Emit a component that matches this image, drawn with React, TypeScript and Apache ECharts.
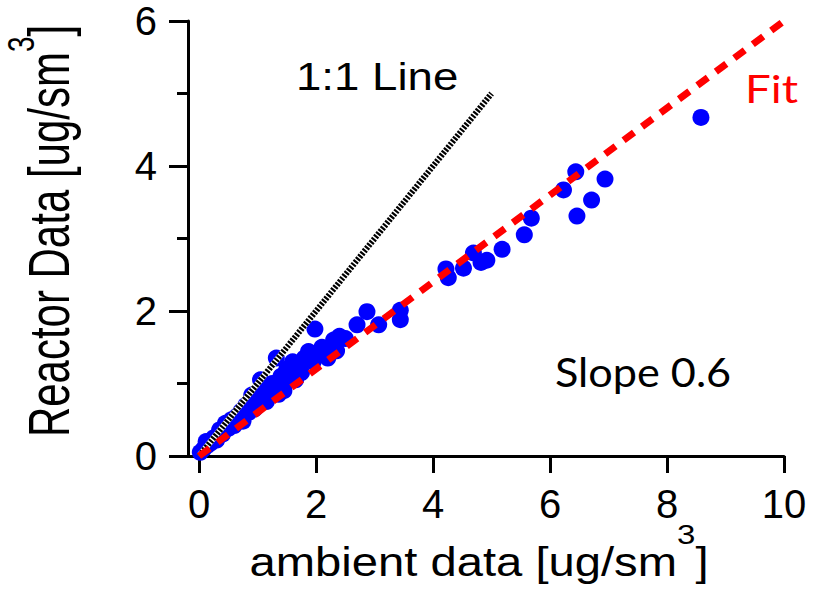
import { useEffect, useRef } from "react";
import * as echarts from "echarts";

const ambient = [
  0.02, 0.08, 0.15, 0.12, 0.2, 0.25, 0.3, 0.35, 0.4, 0.45, 0.5, 0.55, 0.6, 0.65, 0.72, 0.75, 0.8, 0.85,
  0.9, 0.95, 1.0, 1.05, 1.1, 1.15, 1.2, 1.25, 1.32, 1.36, 1.4, 1.45, 1.5, 1.55, 1.6, 1.65, 1.7, 1.75,
  1.8, 1.87, 1.95, 1.98, 2.05, 2.1, 2.2, 2.3, 2.35, 2.4, 2.5, 2.7, 2.87, 3.07, 3.44, 3.44, 4.22, 4.26,
  4.52, 4.69, 4.82, 4.92, 5.18, 5.56, 5.68, 6.23, 6.44, 6.46, 6.71, 6.94, 8.58,
];
const reactor = [
  0.05, 0.1, 0.15, 0.2, 0.18, 0.25, 0.22, 0.36, 0.3, 0.45, 0.38, 0.5, 0.42, 0.55, 0.62, 0.48, 0.7, 0.6,
  0.84, 0.65, 0.8, 1.05, 0.95, 0.75, 0.9, 1.0, 1.35, 0.85, 1.1, 0.9, 1.2, 1.05, 1.3, 1.05, 1.2, 1.15,
  1.35, 1.44, 1.3, 1.75, 1.4, 1.5, 1.35, 1.6, 1.45, 1.65, 1.62, 1.81, 1.99, 1.81, 2.01, 1.88, 2.58, 2.46,
  2.59, 2.8, 2.67, 2.7, 2.85, 3.05, 3.28, 3.67, 3.92, 3.31, 3.53, 3.82, 4.67,
];
const oneToOneEnds = [0, 5];
const fitEnds = [0, 10];
const fitSlope = 0.6;
const xTickValues = [0, 2, 4, 6, 8, 10];
const xLabel = "ambient data [ug/sm";
const yLabel = "Reactor Data [ug/sm";
const supText = "3";

export default function App() {
  const ref = useRef<HTMLDivElement>(null);
  useEffect(() => {
    const chart = echarts.init(ref.current!, null, { renderer: "svg" });
    const arial = "'Liberation Sans', Arial, sans-serif";
    const calibri = "Lato, 'Open Sans', sans-serif";
    const points = ambient.map((x, i) => [x, reactor[i]]);
    const oneToOne = oneToOneEnds.map((v) => [v, v]);
    const fit = fitEnds.map((v) => [v, v * fitSlope]);
    const xRich = {
      m: { fontSize: 40, fontFamily: arial, color: "#000", lineHeight: 84 },
      s: { fontSize: 28, fontFamily: arial, color: "#000", lineHeight: 28, verticalAlign: "top" },
    };
    const yRich = {
      m: { fontSize: 42, fontFamily: arial, color: "#000", lineHeight: 71 },
      s: { fontSize: 28, fontFamily: arial, color: "#000", lineHeight: 28, verticalAlign: "top" },
    };
    chart.setOption({
      animation: false,
      backgroundColor: "#fff",
      grid: { left: 188, right: 31, top: 21, bottom: 134 },
      xAxis: {
        type: "value",
        min: -0.19,
        max: 10,
        splitLine: { show: false },
        axisLine: { onZero: false, lineStyle: { color: "#000", width: 3 } },
        axisTick: { customValues: xTickValues, length: 17, lineStyle: { color: "#000", width: 3 } },
        axisLabel: {
          customValues: xTickValues,
          margin: 28,
          fontSize: 40,
          fontFamily: arial,
          color: "#000",
        },
      },
      yAxis: {
        type: "value",
        min: 0,
        max: 6,
        interval: 2,
        splitLine: { show: false },
        axisLine: { onZero: false, lineStyle: { color: "#000", width: 3 } },
        axisTick: { length: 19, lineStyle: { color: "#000", width: 3 } },
        minorTick: { show: true, splitNumber: 2, length: 11, lineStyle: { color: "#000", width: 3 } },
        minorSplitLine: { show: false },
        axisLabel: { margin: 31, fontSize: 40, fontFamily: arial, color: "#000" },
      },
      series: [
        {
          type: "scatter",
          data: points,
          symbol: "circle",
          symbolSize: 17,
          itemStyle: { color: "#0000ff", opacity: 1 },
          z: 2,
        },
        {
          type: "line",
          data: oneToOne,
          symbol: "none",
          lineStyle: { color: "#fff", width: 6 },
          z: 3,
        },
        {
          type: "line",
          data: oneToOne,
          symbol: "none",
          lineStyle: { color: "#000", width: 6, type: [2.2, 1.4], cap: "butt" },
          z: 4,
        },
        {
          type: "line",
          data: fit,
          symbol: "none",
          lineStyle: { color: "#ff0000", width: 7, type: [13, 10], cap: "butt" },
          z: 5,
        },
      ],
      graphic: [
        {
          type: "text",
          x: 296,
          y: 77,
          scaleX: 1.2,
          style: { text: "1:1 Line", fontSize: 38, fontFamily: arial, fill: "#000", align: "left", verticalAlign: "middle" },
        },
        {
          type: "text",
          x: 745,
          y: 89,
          scaleX: 1.2,
          style: { text: "Fit", fontSize: 38, fontFamily: calibri, fill: "#ff0000", align: "left", verticalAlign: "middle" },
        },
        {
          type: "text",
          x: 555,
          y: 372,
          scaleX: 1.08,
          style: { text: "Slope 0.6", fontSize: 40, fontFamily: calibri, fill: "#000", align: "left", verticalAlign: "middle" },
        },
        {
          type: "text",
          x: 479,
          y: 562,
          scaleX: 1.18,
          style: {
            text: `{m|${xLabel}}{s|${supText}}{m|]}`,
            rich: xRich,
            align: "center",
            verticalAlign: "middle",
          },
        },
        {
          type: "text",
          x: 50,
          y: 231,
          rotation: Math.PI / 2,
          scaleY: 1.35,
          style: {
            text: `{m|${yLabel}}{s|${supText}}{m|]}`,
            rich: yRich,
            align: "center",
            verticalAlign: "middle",
          },
        },
      ],
    });
    return () => chart.dispose();
  }, []);
  return (
    <div
      ref={ref}
      style={{ position: "absolute", left: 0, top: 0, width: 815, height: 590, background: "#fff" }}
    />
  );
}
